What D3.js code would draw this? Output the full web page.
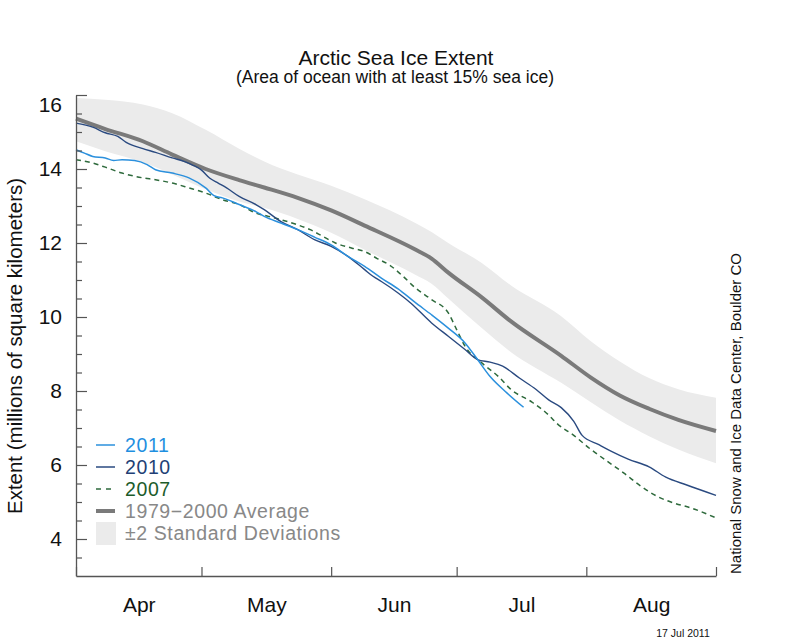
<!DOCTYPE html>
<html><head><meta charset="utf-8">
<script src="https://cdn.jsdelivr.net/npm/d3@7"></script>
<style>
body{margin:0;background:#fff}
svg{display:block}
text{font-family:"Liberation Sans",Arial,Helvetica,sans-serif}
</style>
</head><body>
<svg id="chart" width="800" height="640"></svg>
<script>
// ---------- data ----------
const monthTicks = ["04-01","05-01","06-01","07-01","08-01","09-01"];
const monthLabels = ["Apr","May","Jun","Jul","Aug"];
const yTicks = [4,6,8,10,12,14,16];

// 1979-2000 average and +/-2 standard deviation band
const avgDates = ["04-01","04-08","04-17","04-24","05-02","05-10","05-16","05-24","06-01","06-09","06-21","06-25","06-29","07-07","07-14","07-26","08-02","08-09","08-16","08-23","09-01"];
const avgValues = [15.36,15.08,14.75,14.39,14.00,13.70,13.50,13.22,12.88,12.47,11.83,11.58,11.20,10.53,9.88,8.95,8.37,7.88,7.52,7.22,6.92];
const sdUpper = [15.92,15.87,15.74,15.51,15.06,14.55,14.20,13.85,13.55,13.18,12.55,12.30,12.00,11.46,10.85,10.02,9.35,8.80,8.35,8.05,7.82];
const sdLower = [14.75,14.48,14.18,13.85,13.45,13.12,12.95,12.65,12.28,11.82,11.15,10.90,10.50,9.70,9.05,8.22,7.70,7.20,6.78,6.42,6.05];

// 2011
const dates2011 = ["04-01","04-03","04-05","04-08","04-10","04-12","04-15","04-18","04-20","04-24","04-28","05-02","05-04","05-06","05-10","05-14","05-16","05-20","05-24","05-28","06-01","06-05","06-09","06-13","06-17","06-21","06-25","06-29","07-03","07-06","07-09","07-13","07-17"];
const extent2011 = [14.52,14.43,14.34,14.30,14.23,14.25,14.23,14.12,13.98,13.89,13.76,13.49,13.28,13.22,13.04,12.85,12.72,12.54,12.36,12.16,11.95,11.64,11.37,11.05,10.76,10.40,10.06,9.70,9.30,8.85,8.39,7.95,7.56];

// 2010
const dates2010 = ["04-01","04-05","04-08","04-11","04-13","04-17","04-20","04-24","04-27","04-29","05-01","05-03","05-05","05-07","05-10","05-14","05-16","05-20","05-24","05-28","06-01","06-05","06-09","06-11","06-13","06-17","06-20","06-25","06-29","07-03","07-06","07-09","07-12","07-16","07-20","07-23","07-26","07-29","07-31","08-04","08-07","08-11","08-16","08-20","08-25","09-01"];
const extent2010 = [15.24,15.13,14.98,14.88,14.72,14.55,14.45,14.30,14.20,14.10,13.97,13.75,13.62,13.49,13.26,13.04,12.90,12.58,12.36,12.09,11.91,11.64,11.28,11.10,10.96,10.65,10.38,9.84,9.48,9.12,8.85,8.78,8.67,8.35,8.04,7.76,7.55,7.18,6.80,6.55,6.37,6.16,5.95,5.67,5.46,5.18];

// 2007
const dates2007 = ["04-01","04-05","04-08","04-12","04-17","04-20","04-24","04-28","05-02","05-06","05-10","05-14","05-17","05-20","05-24","05-27","05-30","06-02","06-06","06-09","06-12","06-15","06-18","06-21","06-25","06-29","07-01","07-03","07-07","07-11","07-14","07-19","07-23","07-25","07-29","08-02","08-06","08-10","08-14","08-18","08-22","08-26","09-01"];
const extent2007 = [14.25,14.16,14.05,13.89,13.76,13.71,13.62,13.49,13.35,13.17,13.04,12.81,12.72,12.63,12.49,12.36,12.18,12.00,11.86,11.77,11.58,11.40,11.12,10.80,10.47,10.11,9.66,9.21,8.76,8.39,8.04,7.70,7.35,7.12,6.80,6.43,6.10,5.78,5.43,5.15,4.97,4.84,4.57];

const legendLabels = ["2011","2010","2007","1979\u22122000 Average","\u00b12 Standard Deviations"];

// ---------- setup ----------
const parse = d3.timeParse("%Y-%m-%d");
const toDate = s => parse("2011-" + s);

const svg = d3.select("#chart");
const x = d3.scaleTime().domain([toDate("04-01"), toDate("09-01")]).range([76, 716]);
const y = d3.scaleLinear().domain([3, 16]).range([576, 95]);

const pts = (ds, vs) => ds.map((d, i) => ({date: toDate(d), v: vs[i]}));

const colors = {
  c2011: "#2b90dd", c2010: "#2a4a80", c2007: "#2e6a3c",
  t2011: "#1f8fe0", t2010: "#223f75", t2007: "#1c5c2b",
  avg: "#7a7a7a", band: "#ebebeb", text: "#888888", axis: "#555555"
};
const FONT = '"Liberation Sans",Arial,sans-serif';

// band
const bandData = avgDates.map((d, i) => ({date: toDate(d), lo: sdLower[i], hi: sdUpper[i]}));
svg.append("path")
  .datum(bandData)
  .attr("fill", colors.band)
  .attr("d", d3.area().x(d => x(d.date)).y0(d => y(d.lo)).y1(d => y(d.hi)).curve(d3.curveMonotoneX));

const line = d3.line().x(d => x(d.date)).y(d => y(d.v)).curve(d3.curveMonotoneX);

svg.append("path").datum(pts(avgDates, avgValues))
  .attr("fill", "none").attr("stroke", colors.avg).attr("stroke-width", 4).attr("d", line);

svg.append("path").datum(pts(dates2007, extent2007))
  .attr("fill", "none").attr("stroke", colors.c2007).attr("stroke-width", 1.5)
  .attr("stroke-dasharray", "5,4").attr("d", line);

svg.append("path").datum(pts(dates2010, extent2010))
  .attr("fill", "none").attr("stroke", colors.c2010).attr("stroke-width", 1.4).attr("d", line);

svg.append("path").datum(pts(dates2011, extent2011))
  .attr("fill", "none").attr("stroke", colors.c2011).attr("stroke-width", 1.5).attr("d", line);

// ---------- axes ----------
const minorVals = d3.range(3.5, 16, 0.5).filter(v => v % 2 !== 0);
const gMinor = svg.append("g").attr("transform", "translate(76,0)")
  .call(d3.axisLeft(y).tickValues(minorVals).tickSize(-6).tickSizeOuter(0).tickFormat(""));
gMinor.select(".domain").remove();

const gY = svg.append("g").attr("transform", "translate(76,0)")
  .call(d3.axisLeft(y).tickValues(yTicks).tickSize(-11).tickSizeOuter(0).tickPadding(14));
gY.selectAll("text").attr("font-size", 21).attr("fill", "#111").style("font-family", FONT);
gY.selectAll(".tick").filter(d => d === 16).select("text").attr("dy", "0.78em");

const gX = svg.append("g").attr("transform", "translate(0,576)")
  .call(d3.axisBottom(x).tickValues(monthTicks.map(toDate)).tickSize(-9).tickSizeOuter(0).tickFormat(""));

const midMonths = monthTicks.slice(0, -1).map((m, i) => {
  const a = toDate(m), b = toDate(monthTicks[i + 1]);
  return new Date((a.getTime() + b.getTime()) / 2);
});
const gXL = svg.append("g").attr("transform", "translate(0,576)")
  .call(d3.axisBottom(x).tickValues(midMonths).tickSize(0).tickPadding(21)
    .tickFormat((d, i) => monthLabels[i]));
gXL.select(".domain").remove();
gXL.selectAll("text").attr("font-size", 21).attr("fill", "#111").style("font-family", FONT);

[gMinor, gY, gX].forEach(g => {
  g.selectAll("line").attr("stroke", colors.axis).attr("stroke-width", 1.2);
  g.selectAll(".domain").attr("stroke", colors.axis).attr("stroke-width", 1.3);
});

// ---------- titles ----------
svg.append("text").attr("x", 396).attr("y", 65).attr("text-anchor", "middle")
  .attr("font-size", 21).attr("fill", "#111").text("Arctic Sea Ice Extent");
svg.append("text").attr("x", 395).attr("y", 83).attr("text-anchor", "middle")
  .attr("font-size", 17.5).attr("fill", "#111").text("(Area of ocean with at least 15% sea ice)");

svg.append("text").attr("transform", "translate(22,346) rotate(-90)")
  .attr("text-anchor", "middle").attr("font-size", 20.5).attr("fill", "#111")
  .text("Extent (millions of square kilometers)");

svg.append("text").attr("transform", "translate(741,574) rotate(-90)")
  .attr("text-anchor", "start").attr("font-size", 15).attr("fill", "#111")
  .text("National Snow and Ice Data Center, Boulder CO");

svg.append("text").attr("x", 683).attr("y", 637).attr("text-anchor", "middle")
  .attr("font-size", 10.5).attr("fill", "#111").text("17 Jul 2011");

// ---------- legend ----------
const legendRows = [445, 467, 489, 511, 533];
const legendStyles = [
  {stroke: colors.c2011, w: 1.5, dash: null, tc: colors.t2011},
  {stroke: colors.c2010, w: 1.5, dash: null, tc: colors.t2010},
  {stroke: colors.c2007, w: 1.5, dash: "5,5", tc: colors.t2007},
  {stroke: colors.avg, w: 4, dash: null, tc: colors.text},
  {patch: true, tc: colors.text}
];
const lg = svg.append("g");
legendLabels.forEach((lab, i) => {
  const s = legendStyles[i], yy = legendRows[i];
  if (s.patch) {
    lg.append("rect").attr("x", 96).attr("y", yy - 11).attr("width", 20).attr("height", 23).attr("fill", colors.band);
  } else {
    const l = lg.append("line").attr("x1", 96).attr("x2", 115).attr("y1", yy).attr("y2", yy)
      .attr("stroke", s.stroke).attr("stroke-width", s.w);
    if (s.dash) l.attr("stroke-dasharray", s.dash);
  }
  lg.append("text").attr("x", 125).attr("y", yy).attr("dy", "0.36em")
    .attr("font-size", 19.5).attr("letter-spacing", "0.6px").attr("fill", s.tc).text(lab);
});
</script>
</body></html>
